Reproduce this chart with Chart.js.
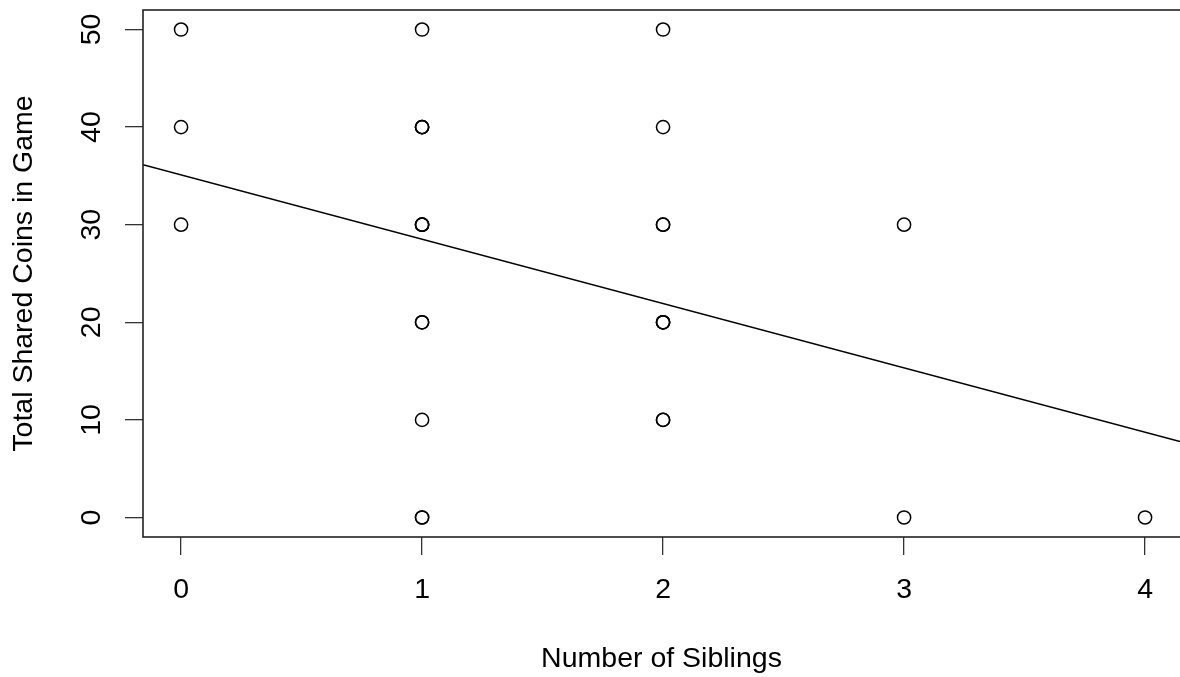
<!DOCTYPE html>
<html>
<head>
<meta charset="utf-8">
<script src="https://cdn.jsdelivr.net/npm/chart.js@4"></script>
<style>
  html, body { margin: 0; padding: 0; background: #fff; overflow: hidden; }
</style>
</head>
<body>
<canvas id="myChart" width="1180" height="677"></canvas>
<script>
// siblings vs. shared coins, repeated pairs are listed more than once
const siblings = [0, 0, 0,
                  1, 1, 1, 1, 1, 1, 1, 1, 1, 1, 1, 1,
                  2, 2, 2, 2, 2, 2, 2, 2, 2,
                  3, 3,
                  4];
const coins = [50, 40, 30,
               50, 40, 40, 40, 30, 30, 30, 20, 20, 10, 0, 0,
               50, 40, 30, 30, 20, 20, 20, 10, 10,
               30, 0,
               0];

// fitted line
const fitIntercept = 35.1;
const fitSlope = -6.59;

const xTicks = [0, 1, 2, 3, 4];
const yTicks = [0, 10, 20, 30, 40, 50];
const xMin = -0.158, xMax = 4.145;
const yMin = -2, yMax = 52;

const FONT = "'Liberation Sans', Arial, Helvetica, sans-serif";
const FSIZE = 28.5;

const points = siblings.map((s, i) => ({x: s, y: coins[i]}));
const fitLine = [xMin, xMax].map(x => ({x: x, y: fitIntercept + fitSlope * x}));

// R style box round the plot region
const plotBox = {
    id: 'plotBox',
    afterDatasetsDraw(chart) {
        const {ctx, chartArea} = chart;
        ctx.save();
        ctx.strokeStyle = '#222';
        ctx.lineWidth = 1.6;
        ctx.strokeRect(chartArea.left, chartArea.top, chartArea.right - chartArea.left + 6, chartArea.bottom - chartArea.top);
        ctx.restore();
    }
};

var ctx = document.getElementById('myChart').getContext('2d');
var myChart = new Chart(ctx, {
    type: 'scatter',
    data: {
        datasets: [{
            data: points,
            pointStyle: 'circle',
            pointRadius: 6.6,
            pointHoverRadius: 6.6,
            borderColor: '#000',
            backgroundColor: 'rgba(0,0,0,0)',
            pointBorderWidth: 1.5
        }, {
            type: 'line',
            data: fitLine,
            borderColor: '#000',
            borderWidth: 1.5,
            pointRadius: 0,
            fill: false
        }]
    },
    plugins: [plotBox],
    options: {
        responsive: false,
        animation: false,
        devicePixelRatio: 1,
        layout: {autoPadding: false, padding: {top: 10, left: 0, right: 0, bottom: 0}},
        plugins: {legend: {display: false}, tooltip: {enabled: false}},
        scales: {
            x: {
                type: 'linear',
                min: xMin,
                max: xMax,
                afterBuildTicks: s => { s.ticks = xTicks.map(v => ({value: v})); },
                afterFit: s => { s.height = 140; s.paddingLeft = 0; s.paddingRight = 0; },
                border: {display: false},
                grid: {drawOnChartArea: false, drawTicks: true, tickLength: 18, color: '#333', lineWidth: 1.3},
                ticks: {padding: 18, color: '#000', autoSkip: false, maxRotation: 0,
                        font: {family: FONT, size: FSIZE}, callback: v => String(v)},
                title: {display: true, text: 'Number of Siblings', color: '#000',
                        font: {family: FONT, size: FSIZE}, padding: {top: 0, bottom: 1}}
            },
            y: {
                type: 'linear',
                min: yMin,
                max: yMax,
                afterBuildTicks: s => { s.ticks = yTicks.map(v => ({value: v})); },
                afterFit: s => { s.width = 143; s.paddingTop = 0; s.paddingBottom = 0; },
                border: {display: false},
                grid: {drawOnChartArea: false, drawTicks: true, tickLength: 18, color: '#333', lineWidth: 1.3},
                ticks: {padding: 17, color: '#000', autoSkip: false, minRotation: 90, maxRotation: 90,
                        crossAlign: 'center', font: {family: FONT, size: FSIZE}, callback: v => String(v)},
                title: {display: true, text: 'Total Shared Coins in Game', color: '#000',
                        font: {family: FONT, size: FSIZE}, padding: {top: 7, bottom: 0}}
            }
        }
    }
});
</script>
</body>
</html>
